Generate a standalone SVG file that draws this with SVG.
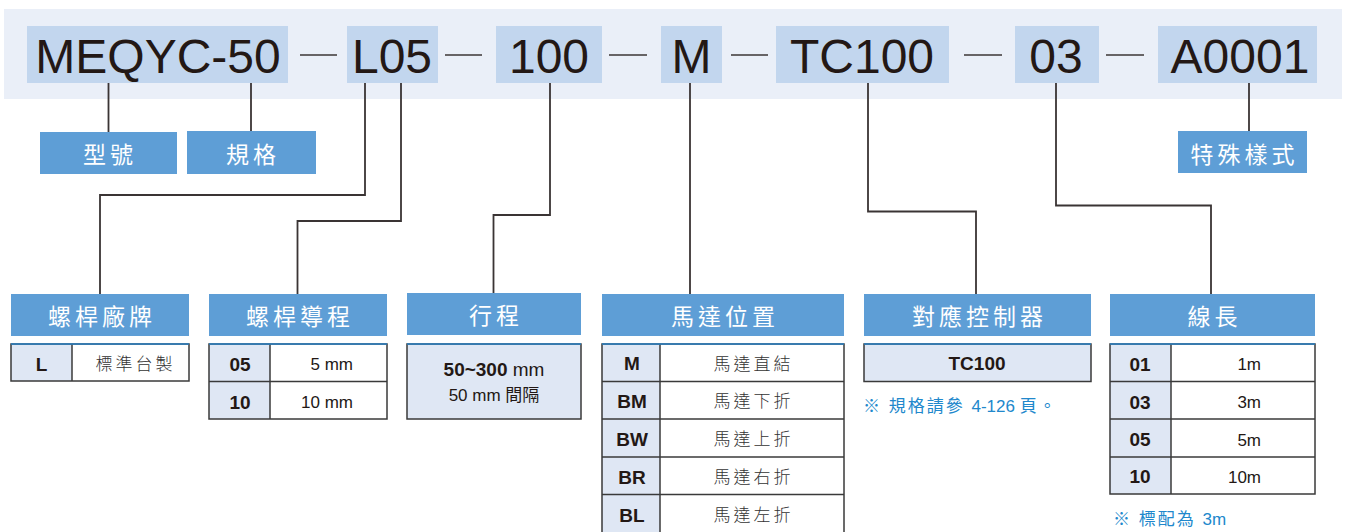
<svg xmlns="http://www.w3.org/2000/svg" width="1346" height="532" viewBox="0 0 1346 532">
<style>
.band{fill:#eaeff8}
.code{fill:#c2d6ee}
.ct{font-family:"Liberation Sans",Arial,sans-serif;font-size:48px;fill:#231815;text-anchor:middle}
.dash{stroke:#3b3636;stroke-width:1.5}
.hdr{fill:#5e9ed6}
.ht{font-family:"Noto Sans CJK TC","Noto Sans CJK SC",sans-serif;font-size:23px;fill:#fff;text-anchor:middle;letter-spacing:4px}
.ck{fill:#dfe7f4}
.cv{fill:#fff}
.grid{stroke:#3a3a3a;stroke-width:1.5;fill:none}
.top{stroke:#2a82c6;stroke-width:1.5}
.k{font-family:"Liberation Sans",Arial,sans-serif;font-weight:bold;font-size:19px;fill:#231815;text-anchor:middle}
.v{font-family:"Liberation Sans",Arial,sans-serif;font-size:17px;fill:#231815}
.cj{font-family:"Noto Sans CJK TC","Noto Sans CJK SC",sans-serif;font-weight:300;font-size:17px;fill:#333;text-anchor:middle;letter-spacing:3px}
.note{font-family:"Liberation Sans","Noto Sans CJK TC",sans-serif;font-size:17px;fill:#2188cc}
.sp{letter-spacing:2px}
.conn{stroke:#3a3434;stroke-width:1.8;fill:none}
</style>
<rect class="band" x="4" y="9" width="1338" height="90"/>
<g id="code">
  <rect class="code" x="27" y="26" width="261" height="57"/><text class="ct" x="158" y="73">MEQYC-50</text>
  <rect class="code" x="347" y="26" width="91" height="57"/><text class="ct" x="392" y="73">L05</text>
  <rect class="code" x="496" y="26" width="106" height="57"/><text class="ct" x="549" y="73">100</text>
  <rect class="code" x="661" y="26" width="61" height="57"/><text class="ct" x="691.5" y="73">M</text>
  <rect class="code" x="776" y="26" width="173" height="57"/><text class="ct" x="862" y="73">TC100</text>
  <rect class="code" x="1015" y="26" width="84" height="57"/><text class="ct" x="1056" y="73">03</text>
  <rect class="code" x="1158" y="26" width="159" height="57"/><text class="ct" x="1240" y="73">A0001</text>
  <line class="dash" x1="300" y1="55" x2="337" y2="55"/>
  <line class="dash" x1="445" y1="55" x2="482" y2="55"/>
  <line class="dash" x1="609" y1="55" x2="647" y2="55"/>
  <line class="dash" x1="731" y1="55" x2="768" y2="55"/>
  <line class="dash" x1="964" y1="55" x2="1002" y2="55"/>
  <line class="dash" x1="1106" y1="55" x2="1144" y2="55"/>
</g>
<g id="connectors">
  <path class="conn" d="M108.5 83V132"/>
  <path class="conn" d="M251 83V131"/>
  <path class="conn" d="M365 83V195H100V294"/>
  <path class="conn" d="M401 83V221H297.5V294"/>
  <path class="conn" d="M550 83V215H493.5V293"/>
  <path class="conn" d="M690 83V294"/>
  <path class="conn" d="M868 83V211.5H976V294"/>
  <path class="conn" d="M1056 83V205.5H1211V294"/>
  <path class="conn" d="M1249 83V131"/>
</g>
<g id="model">
  <rect class="hdr" x="40" y="132" width="137" height="42"/><text class="ht" x="110" y="163">型號</text>
</g>
<g id="spec">
  <rect class="hdr" x="187" y="131" width="129" height="43"/><text class="ht" x="253" y="163">規格</text>
</g>
<g id="special">
  <rect class="hdr" x="1178" y="131" width="129" height="42"/><text class="ht" x="1244.5" y="163">特殊樣式</text>
</g>
<g id="screw-brand">
  <rect class="hdr" x="11" y="294" width="178" height="42"/><text class="ht" x="102" y="325">螺桿廠牌</text>
  <rect class="ck" x="11" y="344" width="61" height="37"/><rect class="cv" x="72" y="344" width="117" height="37"/>
  <rect class="grid" x="11" y="344" width="178" height="37"/>
  <line class="grid" x1="72" y1="344" x2="72" y2="381"/>
  <line class="top" x1="11" y1="344" x2="189" y2="344"/>
  <text class="k" x="41.5" y="371">L</text>
  <text class="cj" x="135.5" y="370">標準台製</text>
</g>
<g id="screw-lead">
  <rect class="hdr" x="209" y="294" width="178" height="42"/><text class="ht" x="300" y="325">螺桿導程</text>
  <rect class="ck" x="209" y="344" width="61" height="75"/><rect class="cv" x="270" y="344" width="117" height="75"/>
  <rect class="grid" x="209" y="344" width="178" height="75"/>
  <line class="grid" x1="270" y1="344" x2="270" y2="419"/>
  <line class="grid" x1="209" y1="381.5" x2="387" y2="381.5"/>
  <line class="top" x1="209" y1="344" x2="387" y2="344"/>
  <text class="k" x="240" y="371">05</text>
  <text class="k" x="240" y="408.5">10</text>
  <text class="v" x="353" y="370" text-anchor="end">5 mm</text>
  <text class="v" x="353" y="408" text-anchor="end">10 mm</text>
</g>
<g id="stroke">
  <rect class="hdr" x="407" y="293" width="174" height="42"/><text class="ht" x="496" y="324">行程</text>
  <rect class="ck" x="407" y="344" width="174" height="75"/>
  <rect class="grid" x="407" y="344" width="174" height="75"/>
  <line class="top" x1="407" y1="344" x2="581" y2="344"/>
  <text x="494" y="376" text-anchor="middle" font-family="Liberation Sans, Arial, sans-serif" font-size="19" fill="#231815"><tspan font-weight="bold">50~300</tspan> mm</text>
  <text x="494" y="401" text-anchor="middle" font-family="Liberation Sans, Noto Sans CJK TC, sans-serif" font-size="17" fill="#231815">50 mm 間隔</text>
</g>
<g id="motor-position">
  <rect class="hdr" x="602" y="294" width="242" height="42"/><text class="ht" x="725" y="325">馬達位置</text>
  <rect class="ck" x="602" y="344" width="58" height="200"/><rect class="cv" x="660" y="344" width="184" height="200"/>
  <rect class="grid" x="602" y="344" width="242" height="200"/>
  <line class="grid" x1="660" y1="344" x2="660" y2="544"/>
  <line class="grid" x1="602" y1="381.5" x2="844" y2="381.5"/>
  <line class="grid" x1="602" y1="419" x2="844" y2="419"/>
  <line class="grid" x1="602" y1="457" x2="844" y2="457"/>
  <line class="grid" x1="602" y1="494.5" x2="844" y2="494.5"/>
  <line class="top" x1="602" y1="344" x2="844" y2="344"/>
  <text class="k" x="632" y="370">M</text>
  <text class="k" x="632" y="408">BM</text>
  <text class="k" x="632" y="446">BW</text>
  <text class="k" x="632" y="484">BR</text>
  <text class="k" x="632" y="521.5">BL</text>
  <text class="cj" x="753.5" y="369.5">馬達直結</text>
  <text class="cj" x="753.5" y="407">馬達下折</text>
  <text class="cj" x="753.5" y="445">馬達上折</text>
  <text class="cj" x="753.5" y="483">馬達右折</text>
  <text class="cj" x="753.5" y="520.5">馬達左折</text>
</g>
<g id="controller">
  <rect class="hdr" x="864" y="294" width="227" height="42"/><text class="ht" x="979.5" y="325">對應控制器</text>
  <rect class="ck" x="864" y="344" width="227" height="37.5"/>
  <rect class="grid" x="864" y="344" width="227" height="37.5"/>
  <line class="top" x1="864" y1="344" x2="1091" y2="344"/>
  <text class="k" x="977" y="370">TC100</text>
  <text class="note" x="863" y="411.5"><tspan class="sp">※ 規格請參 </tspan>4-126 <tspan class="sp">頁。</tspan></text>
</g>
<g id="cable-length">
  <rect class="hdr" x="1110" y="294" width="205" height="42"/><text class="ht" x="1214.5" y="325">線長</text>
  <rect class="ck" x="1110" y="344" width="61" height="150"/><rect class="cv" x="1171" y="344" width="144" height="150"/>
  <rect class="grid" x="1110" y="344" width="205" height="150"/>
  <line class="grid" x1="1171" y1="344" x2="1171" y2="494"/>
  <line class="grid" x1="1110" y1="381.5" x2="1315" y2="381.5"/>
  <line class="grid" x1="1110" y1="419" x2="1315" y2="419"/>
  <line class="grid" x1="1110" y1="457" x2="1315" y2="457"/>
  <line class="top" x1="1110" y1="344" x2="1315" y2="344"/>
  <text class="k" x="1140" y="371">01</text>
  <text class="k" x="1140" y="408.5">03</text>
  <text class="k" x="1140" y="446">05</text>
  <text class="k" x="1140" y="483">10</text>
  <text class="v" x="1261" y="370" text-anchor="end">1m</text>
  <text class="v" x="1261" y="408" text-anchor="end">3m</text>
  <text class="v" x="1261" y="446" text-anchor="end">5m</text>
  <text class="v" x="1261" y="483" text-anchor="end">10m</text>
  <text class="note" x="1113" y="525"><tspan class="sp">※ 標配為 </tspan>3m</text>
</g>
</svg>
